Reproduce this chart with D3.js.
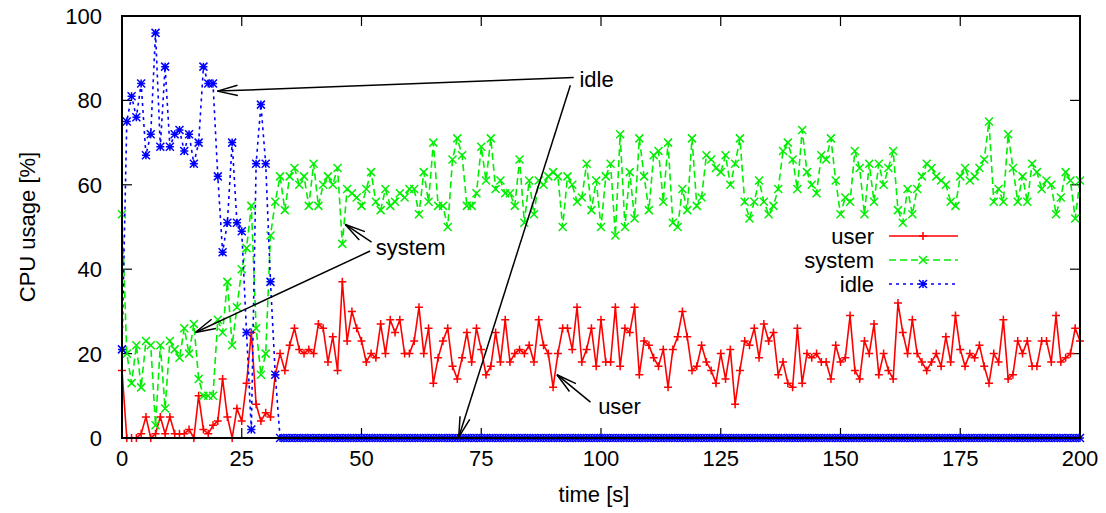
<!DOCTYPE html>
<html lang="en">
<head>
    <meta charset="UTF-8">
    <title>CPU usage</title>
    <script src="https://d3js.org/d3.v7.min.js"></script>
    <style>
        body {
            margin: 0;
            background: #fff;
        }
        svg {
            display: block;
            font-family: "Liberation Sans", Arial, sans-serif;
        }
        .tick-label, .axis-title, .note, .key-text {
            font-size: 22px;
            fill: #000;
        }
    </style>
</head>
<body>
    <svg width="1106" height="513"></svg>

    <script>
        // Series, one value per second (t = 0 .. 200)
        const user = [16,0,0,0,1,5,0,1,5,1,5, 1,1,1,2,0,10,2,1,3,4, 14,5,0,7,4,13,25,8,4,6,
            5,15,20,16,22,26,21,20,21,20, 27,26,18,24,16,37,23,30,26,23, 18,20,19,27,20,28,25,28,20,20,
            23,31,20,26,13,19,23,26,17,14, 19,25,18,26,21,15,17,25,18,28, 18,20,21,20,22,18,28,22,20,12,
            20,26,26,21,31,18,21,26,17,28, 18,18,31,17,26,25,31,15,23,22, 19,17,21,12,21,24,30,24,16,17,
            22,18,16,13,20,14,21,8,16,23, 22,26,19,27,23,25,15,18,13,12, 26,13,20,19,20,18,18,14,22,18,
            19,29,16,14,23,20,27,15,20,16, 14,32,25,20,28,20,18,16,18,20, 17,24,18,29,21,17,20,19,22,17,
            13,20,18,28,14,15,23,20,23,17, 17,23,23,18,29,18,19,20,26,23];
        const system = [53,20,13,22,12,23,22,3,22,7,23, 21,19,26,20,27,14,10,10,10,28, 25,37,22,31,40,45,55,26,15,20,
            48,56,62,54,62,64,60,62,55,65, 55,60,62,60,64,46,59,58,57,55, 59,63,56,54,59,55,56,58,57,59,
            59,53,63,56,70,55,55,50,66,71, 67,55,55,58,69,61,71,59,61,58, 58,55,66,51,61,53,61,60,62,63,
            62,50,62,60,56,57,65,54,61,50, 62,65,48,72,50,63,52,71,62,54, 67,68,56,70,51,50,59,54,71,55,
            57,67,66,64,63,67,60,65,71,56, 52,56,61,56,53,55,59,68,70,66, 59,73,63,60,58,67,66,71,61,53,
            57,56,68,64,53,65,56,65,60,64, 68,54,51,59,53,59,62,65,64,62, 61,60,56,55,62,64,61,62,64,66,
            75,56,59,56,72,64,56,62,56,65, 63,59,61,60,53,57,63,61,52,61];
        const idleStart = [21,75,81,76,84,67,72,96,69,88,69, 72,73,68,72,65,70,88,84,84,62,
            44,51,70,51,49,25,2,65,79,65, 37,15];
        const idle = idleStart.concat(new Array(201 - idleStart.length).fill(0));
        const time = d3.range(0, 201);

        const xTicks = [0, 25, 50, 75, 100, 125, 150, 175, 200];
        const yTicks = [0, 20, 40, 60, 80, 100];

        const seriesNames = ["user", "system", "idle"];
        const seriesColors = ["#ff0000", "#00ee00", "#0000ff"];
        const seriesDash = [null, "7,4", "3,4"];
        const seriesMarks = ["plus", "cross", "star"];

        // Annotation texts and arrows (data coordinates)
        const notes = [
            {text: "idle", x: 95.5, y: 85},
            {text: "system", x: 53, y: 45.3},
            {text: "user", x: 99.4, y: 7.6}
        ];
        const arrows = [
            {from: [94.3, 85.4], to: [19.9, 82.2]},
            {from: [93.6, 83.6], to: [70.3, 0.2]},
            {from: [52.1, 46.4], to: [46.6, 50.6]},
            {from: [51.8, 44.3], to: [15.3, 25.0]},
            {from: [97.8, 8.5], to: [90.8, 15.0]}
        ];

        const svg = d3.select("svg");
        const x = d3.scaleLinear().domain([0, 200]).range([122, 1080]);
        const y = d3.scaleLinear().domain([0, 100]).range([438, 16]);

        // Tick marks on all four sides (inward) and labels
        const tickLen = 10;
        const ticks = svg.append("g").attr("stroke", "#000").attr("stroke-width", 1.2);
        xTicks.forEach(v => {
            ticks.append("line").attr("x1", x(v)).attr("x2", x(v)).attr("y1", y(0)).attr("y2", y(0) - tickLen);
            ticks.append("line").attr("x1", x(v)).attr("x2", x(v)).attr("y1", y(100)).attr("y2", y(100) + tickLen);
        });
        yTicks.forEach(v => {
            ticks.append("line").attr("x1", x(0)).attr("x2", x(0) + tickLen).attr("y1", y(v)).attr("y2", y(v));
            ticks.append("line").attr("x1", x(200)).attr("x2", x(200) - tickLen).attr("y1", y(v)).attr("y2", y(v));
        });

        svg.append("g").selectAll("text")
            .data(xTicks)
            .enter().append("text")
            .attr("class", "tick-label")
            .attr("x", d => x(d))
            .attr("y", y(0) + 28)
            .attr("text-anchor", "middle")
            .text(d => d);

        svg.append("g").selectAll("text")
            .data(yTicks)
            .enter().append("text")
            .attr("class", "tick-label")
            .attr("x", x(0) - 20)
            .attr("y", d => y(d) + 8)
            .attr("text-anchor", "end")
            .text(d => d);

        svg.append("text")
            .attr("class", "axis-title")
            .attr("x", 594)
            .attr("y", 502)
            .attr("text-anchor", "middle")
            .text("time [s]");

        svg.append("text")
            .attr("class", "axis-title")
            .attr("transform", "translate(35,227) rotate(-90)")
            .attr("text-anchor", "middle")
            .text("CPU usage [%]");

        // Marker shapes
        const r = 4;
        function markPath(type) {
            const plus = `M${-r},0H${r}M0,${-r}V${r}`;
            const cross = `M${-r},${-r}L${r},${r}M${-r},${r}L${r},${-r}`;
            if (type === "plus") return plus;
            if (type === "cross") return cross;
            return plus + cross;
        }

        const allSeries = [user, system, idle];
        const line = d3.line().x((d, i) => x(time[i])).y(d => y(d));

        allSeries.forEach((values, k) => {
            const g = svg.append("g");
            g.append("path")
                .datum(values)
                .attr("fill", "none")
                .attr("stroke", seriesColors[k])
                .attr("stroke-width", 1.6)
                .attr("stroke-dasharray", seriesDash[k])
                .attr("d", line);
            g.selectAll("path.mark")
                .data(values)
                .enter().append("path")
                .attr("class", "mark")
                .attr("fill", "none")
                .attr("stroke", seriesColors[k])
                .attr("stroke-width", 1.5)
                .attr("transform", (d, i) => `translate(${x(time[i])},${y(d)})`)
                .attr("d", markPath(seriesMarks[k]));
        });

        // Key
        const key = svg.append("g");
        seriesNames.forEach((name, k) => {
            const ky = 236 + k * 24;
            key.append("text")
                .attr("class", "key-text")
                .attr("x", 874)
                .attr("y", ky + 8)
                .attr("text-anchor", "end")
                .text(name);
            key.append("line")
                .attr("x1", 889).attr("x2", 958)
                .attr("y1", ky).attr("y2", ky)
                .attr("stroke", seriesColors[k])
                .attr("stroke-width", 1.6)
                .attr("stroke-dasharray", seriesDash[k]);
            key.append("path")
                .attr("fill", "none")
                .attr("stroke", seriesColors[k])
                .attr("stroke-width", 1.5)
                .attr("transform", `translate(923,${ky})`)
                .attr("d", markPath(seriesMarks[k]));
        });

        // Border
        svg.append("rect")
            .attr("x", x(0)).attr("y", y(100))
            .attr("width", x(200) - x(0)).attr("height", y(0) - y(100))
            .attr("fill", "none")
            .attr("stroke", "#000")
            .attr("stroke-width", 2);

        // Labels with arrows
        svg.append("g").selectAll("text")
            .data(notes)
            .enter().append("text")
            .attr("class", "note")
            .attr("x", d => x(d.x))
            .attr("y", d => y(d.y) + 8)
            .text(d => d.text);

        const headLen = 21, headAng = 14 * Math.PI / 180;
        const ar = svg.append("g").attr("stroke", "#000").attr("stroke-width", 1.5).attr("fill", "none");
        arrows.forEach(a => {
            const x1 = x(a.from[0]), y1 = y(a.from[1]);
            const x2 = x(a.to[0]), y2 = y(a.to[1]);
            const ang = Math.atan2(y1 - y2, x1 - x2);
            ar.append("line").attr("x1", x1).attr("y1", y1).attr("x2", x2).attr("y2", y2);
            ar.append("path").attr("d",
                `M${x2 + headLen * Math.cos(ang + headAng)},${y2 + headLen * Math.sin(ang + headAng)}` +
                `L${x2},${y2}` +
                `L${x2 + headLen * Math.cos(ang - headAng)},${y2 + headLen * Math.sin(ang - headAng)}`);
        });
    </script>
</body>
</html>
